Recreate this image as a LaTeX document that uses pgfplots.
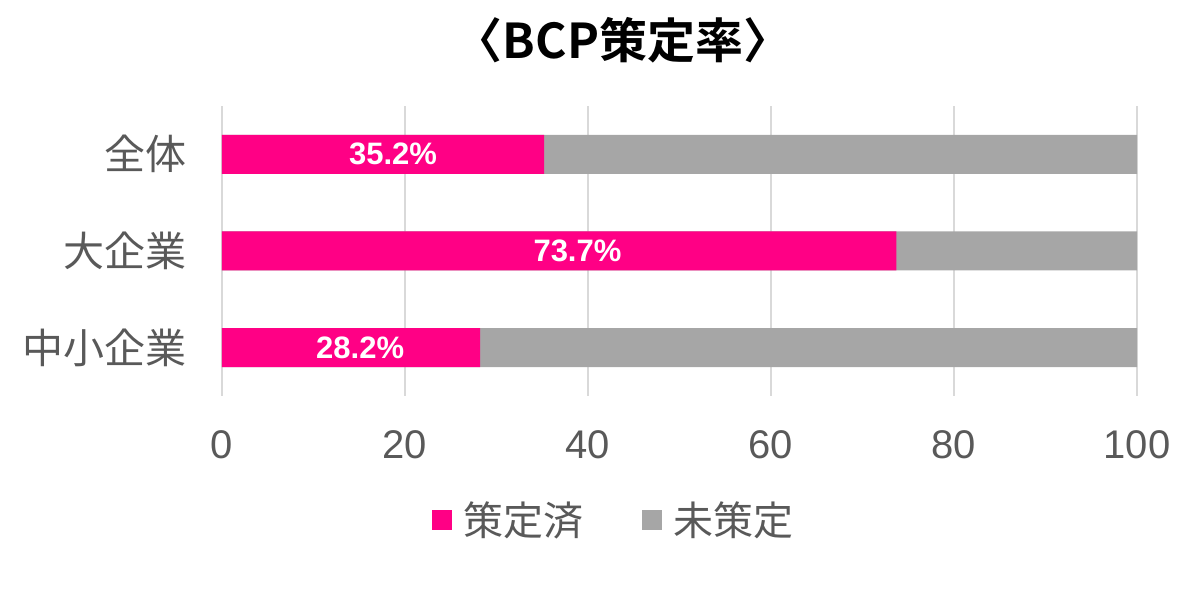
\documentclass[border=0pt]{standalone}
\usepackage{pgfplots}
\pgfplotsset{compat=1.18}
\usepackage{fontspec}
\setmainfont{Liberation Sans}
\newfontfamily\jp[BoldFont={Noto Sans CJK JP Bold}]{Noto Sans CJK JP}
\definecolor{pinkc}{HTML}{FF0085}
\definecolor{grayc}{HTML}{A6A6A6}
\definecolor{gridc}{HTML}{D9D9D9}
\definecolor{txtc}{HTML}{595959}
\begin{document}
\begin{tikzpicture}
\begin{axis}[
  at={(0,0)}, anchor=south west,
  scale only axis,
  width=457.5pt, height=145pt,
  xbar,
  xmin=0, xmax=100, ymin=-0.5, ymax=2.5,
  enlargelimits=false,
  axis line style={draw=none},
  xtick={0,20,40,60,80,100},
  ytick={0,1,2},
  yticklabels={中小企業,大企業,全体},
  tick style={draw=none},
  xmajorgrids=true,
  grid style={gridc, line width=0.75pt},
  /pgf/number format/assume math mode=true,
  xticklabel style={font=\fontsize{20}{24}\selectfont, text=txtc, anchor=center, inner sep=0pt, yshift=-24.5pt},
  yticklabel style={font=\jp\fontsize{20.5}{24}\selectfont, text=txtc, anchor=east, inner sep=0pt, xshift=-13.5pt},
  legend style={at={(0.4295,-0.4276)}, anchor=center, draw=none, fill=none,
     font=\jp\fontsize{20}{24}\selectfont, text=txtc,
     /tikz/every even column/.append style={column sep=27pt}},
  legend columns=2,
  legend image code/.code={\fill[#1] (0pt,-5pt) rectangle (10pt,5pt); \path (14pt,0pt);},
]
\addplot[fill=grayc, draw=none, bar width=19.5pt, bar shift=0pt, forget plot] coordinates {(100,0) (100,1) (100,2)};
\addplot[fill=pinkc, draw=none, bar width=19.5pt, bar shift=0pt, forget plot] coordinates {(28.2,0) (73.7,1) (35.2,2)};
\addplot[draw=none, mark=none, only marks, forget plot,
  point meta=explicit symbolic,
  nodes near coords,
  every node near coord/.style={anchor=center, text=white, font=\bfseries\fontsize{15.5}{18}\selectfont}]
  coordinates {(15.1,0) [28.2\%] (38.85,1) [73.7\%] (18.7,2) [35.2\%]};
\addlegendimage{fill=pinkc, draw=none}
\addlegendentry{策定済}
\addlegendimage{fill=grayc, draw=none}
\addlegendentry{未策定}
\end{axis}
\node[font=\jp\bfseries\fontsize{24}{28}\selectfont, text=black, anchor=center] at (200.5pt,178pt) {〈BCP策定率〉};
\pgfresetboundingbox
\path (-111pt,-98pt) rectangle (489pt,198pt);
\end{tikzpicture}
\end{document}
